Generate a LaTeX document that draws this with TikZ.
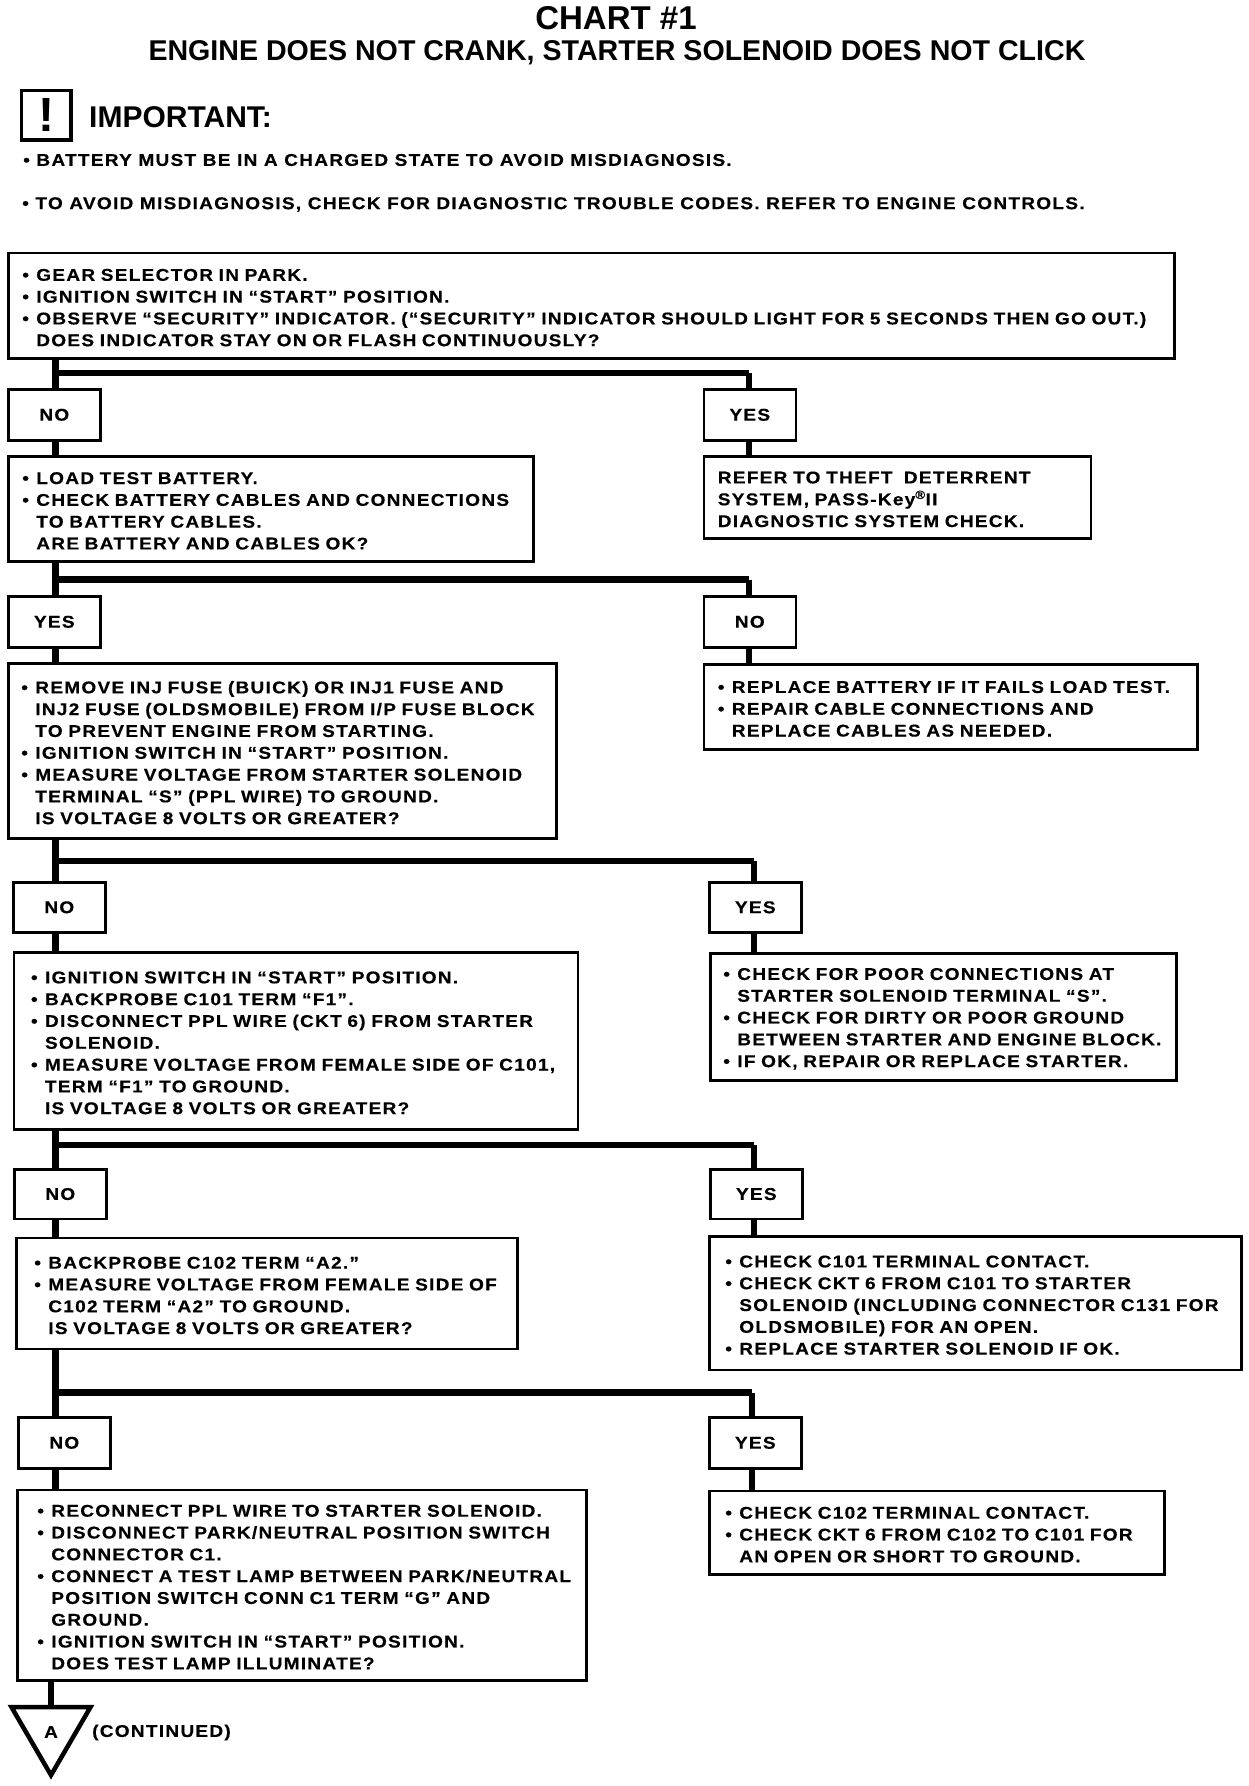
\documentclass[tikz,border=0pt]{standalone}
\usepackage{fontspec}
\setmainfont{Liberation Sans}
\newfontfamily\bodyfont[FakeStretch=1.12,LetterSpace=7.5,FakeBold=0.4]{Liberation Sans}
\usetikzlibrary{positioning,shapes.geometric}
\newlength{\leadin}
\setlength{\leadin}{10pt}
\newcommand{\bul}{\hspace*{\leadin}\makebox[14pt][l]{\textbullet}}
\newcommand{\ind}{\hspace*{\dimexpr\leadin+14pt\relax}}
\tikzset{
  headtext/.style={inner sep=0pt, font=\fontsize{28.6}{30}\selectfont\bfseries},
  notetext/.style={inner sep=0pt, anchor=west, font=\bodyfont\fontsize{17}{22}\selectfont\bfseries},
  lead/.style={execute at begin node={\setlength{\leadin}{#1}}},
  stepbox/.style={rectangle, draw, line width=2.6pt, anchor=north west, align=left, inner ysep=0pt,
                  inner xsep=4pt, font=\bodyfont\fontsize{17}{21.8}\selectfont\bfseries,
                  execute at begin node={\rule{0pt}{16pt}}},
  choice/.style={rectangle, draw, line width=2.6pt, anchor=north west, minimum width=92pt,
                 font=\bodyfont\fontsize{17}{20}\selectfont\bfseries},
  stem/.style={line width=6.5pt},
  bar/.style={line width=6.5pt},
}
\begin{document}
\begin{tikzpicture}[x=1pt, y=-1pt]
  \useasboundingbox (0,0) rectangle (1248,1786);

  \node[headtext, font=\fontsize{33}{34}\selectfont\bfseries] (chart) at (616,18) {CHART \#1};
  \node[headtext] (subtitle) at (617,53) {ENGINE DOES NOT CRANK, STARTER SOLENOID DOES NOT CLICK};
  \node[rectangle, draw, line width=3.5pt, minimum width=49.5pt, minimum height=49.5pt, inner sep=0pt,
        font=\fontsize{48}{48}\selectfont\bfseries] (icon) at (46.2,115.3) {!};
  \node[notetext, font=\fontsize{30}{31}\selectfont\bfseries] (important) at (89,117) {IMPORTANT:};
  \node[notetext] (note1) at (23,160) {\textbullet\ BATTERY MUST BE IN A CHARGED STATE TO AVOID MISDIAGNOSIS.};
  \node[notetext] (note2) at (22,204.5) {\textbullet\ TO AVOID MISDIAGNOSIS, CHECK FOR DIAGNOSTIC TROUBLE CODES. REFER TO ENGINE CONTROLS.};

  % first question
  \node[stepbox, text width=1158pt, minimum height=105.5pt] (step1) at (7,251.5) {\bul GEAR SELECTOR IN PARK.\\
    \bul IGNITION SWITCH IN “START” POSITION.\\
    \bul OBSERVE “SECURITY” INDICATOR. (“SECURITY” INDICATOR SHOULD LIGHT FOR 5 SECONDS THEN GO OUT.)\\
    \ind DOES INDICATOR STAY ON OR FLASH CONTINUOUSLY?};
  \node[choice, minimum height=51pt] (no1) at (7,388) {NO};
  \node[choice, minimum height=51pt] (yes1) at (702.5,388) {YES};
  \node[stepbox, text width=517pt, minimum height=105pt] (step2) at (7,455) {\bul LOAD TEST BATTERY.\\
    \bul CHECK BATTERY CABLES AND CONNECTIONS\\
    \ind TO BATTERY CABLES.\\
    \ind ARE BATTERY AND CABLES OK?};
  \node[stepbox, inner xsep=14pt, text width=359pt, minimum height=82pt] (theft) at (702.5,455) {REFER TO THEFT\ \ DETERRENT\\
    SYSTEM, PASS-Key\textsuperscript{\textregistered}II\\
    DIAGNOSTIC SYSTEM CHECK.};

  \node[choice, minimum height=51pt] (yes2) at (7,595) {YES};
  \node[choice, minimum height=51pt] (no2) at (702.5,595) {NO};
  \node[stepbox, lead=9pt, text width=540pt, minimum height=175pt] (step3) at (7,662) {\bul REMOVE INJ FUSE (BUICK) OR INJ1 FUSE AND\\
    \ind INJ2 FUSE (OLDSMOBILE) FROM I/P FUSE BLOCK\\
    \ind TO PREVENT ENGINE FROM STARTING.\\
    \bul IGNITION SWITCH IN “START” POSITION.\\
    \bul MEASURE VOLTAGE FROM STARTER SOLENOID\\
    \ind TERMINAL “S” (PPL WIRE) TO GROUND.\\
    \ind IS VOLTAGE 8 VOLTS OR GREATER?};
  \node[stepbox, text width=485.5pt, minimum height=85pt] (battery) at (702.5,663) {\bul REPLACE BATTERY IF IT FAILS LOAD TEST.\\
    \bul REPAIR CABLE CONNECTIONS AND\\
    \ind REPLACE CABLES AS NEEDED.};

  \node[choice, minimum height=50pt] (no3) at (12,881) {NO};
  \node[choice, minimum height=50pt] (yes3) at (708,881) {YES};
  \node[stepbox, lead=13pt, text width=556pt, minimum height=177pt] (step4) at (12.7,951) {\bul IGNITION SWITCH IN “START” POSITION.\\
    \bul BACKPROBE C101 TERM “F1”.\\
    \bul DISCONNECT PPL WIRE (CKT 6) FROM STARTER\\
    \ind SOLENOID.\\
    \bul MEASURE VOLTAGE FROM FEMALE SIDE OF C101,\\
    \ind TERM “F1” TO GROUND.\\
    \ind IS VOLTAGE 8 VOLTS OR GREATER?};
  \node[stepbox, lead=9pt, text width=458pt, minimum height=127pt] (starter) at (709,952) {\bul CHECK FOR POOR CONNECTIONS AT\\
    \ind STARTER SOLENOID TERMINAL “S”.\\
    \bul CHECK FOR DIRTY OR POOR GROUND\\
    \ind BETWEEN STARTER AND ENGINE BLOCK.\\
    \bul IF OK, REPAIR OR REPLACE STARTER.};

  \node[choice, minimum height=49.5pt] (no4) at (13,1168) {NO};
  \node[choice, minimum height=49.5pt] (yes4) at (709,1168) {YES};
  \node[stepbox, lead=14pt, text width=493pt, minimum height=111pt] (step5) at (15,1236.6) {\bul BACKPROBE C102 TERM “A2.”\\
    \bul MEASURE VOLTAGE FROM FEMALE SIDE OF\\
    \ind C102 TERM “A2” TO GROUND.\\
    \ind IS VOLTAGE 8 VOLTS OR GREATER?};
  \node[stepbox, lead=12pt, text width=524pt, minimum height=133.5pt] (c101) at (708,1235) {\bul CHECK C101 TERMINAL CONTACT.\\
    \bul CHECK CKT 6 FROM C101 TO STARTER\\
    \ind SOLENOID (INCLUDING CONNECTOR C131 FOR\\
    \ind OLDSMOBILE) FOR AN OPEN.\\
    \bul REPLACE STARTER SOLENOID IF OK.};

  \node[choice, minimum height=51pt] (no5) at (17,1416) {NO};
  \node[choice, minimum height=51pt] (yes5) at (708,1416) {YES};
  \node[stepbox, lead=16pt, text width=561pt, minimum height=190.5pt] (step6) at (16,1488.5) {\bul RECONNECT PPL WIRE TO STARTER SOLENOID.\\
    \bul DISCONNECT PARK/NEUTRAL POSITION SWITCH\\
    \ind CONNECTOR C1.\\
    \bul CONNECT A TEST LAMP BETWEEN PARK/NEUTRAL\\
    \ind POSITION SWITCH CONN C1 TERM “G” AND\\
    \ind GROUND.\\
    \bul IGNITION SWITCH IN “START” POSITION.\\
    \ind DOES TEST LAMP ILLUMINATE?};
  \node[stepbox, lead=12pt, text width=447pt, minimum height=83.5pt] (c102) at (708,1489.5) {\bul CHECK C102 TERMINAL CONTACT.\\
    \bul CHECK CKT 6 FROM C102 TO C101 FOR\\
    \ind AN OPEN OR SHORT TO GROUND.};

  \node[isosceles triangle, draw, line width=4.5pt, shape border rotate=-90, isosceles triangle stretches,
        minimum width=79pt, minimum height=68pt, inner sep=0pt, anchor=apex] (cont) at (51,1781) {};
  \node[font=\bodyfont\fontsize{17}{20}\selectfont\bfseries, inner sep=0pt] (contA) at (51,1732) {A};
  \node[notetext] (contlabel) at (92,1732.5) {(CONTINUED)};

  % branches
  \coordinate (hub1) at (55.7,373);
  \coordinate (hub1r) at (749,373);
  \coordinate (hub2) at (55.7,579.5);
  \coordinate (hub2r) at (749,579.5);
  \coordinate (hub3) at (55.7,861);
  \coordinate (hub3r) at (754,861);
  \coordinate (hub4) at (55.7,1145);
  \coordinate (hub4r) at (754,1145);
  \coordinate (hub5) at (55.7,1392.5);
  \coordinate (hub5r) at (752,1392.5);

  \draw[stem] (step1.south -| hub1) -- (no1.north -| hub1);
  \draw[stem] (no1.south -| hub1) -- (step2.north -| hub1);
  \draw[stem] (step2.south -| hub2) -- (yes2.north -| hub2);
  \draw[stem] (yes2.south -| hub2) -- (step3.north -| hub2);
  \draw[stem] (step3.south -| hub3) -- (no3.north -| hub3);
  \draw[stem] (no3.south -| hub3) -- (step4.north -| hub3);
  \draw[stem] (step4.south -| hub4) -- (no4.north -| hub4);
  \draw[stem] (no4.south -| hub4) -- (step5.north -| hub4);
  \draw[stem] (step5.south -| hub5) -- (no5.north -| hub5);
  \draw[stem] (no5.south -| hub5) -- (step6.north -| hub5);
  \draw[stem] (step6.south -| cont.lower side) -- (cont.lower side);

  \draw[bar] (hub1) -- (hub1r);
  \draw[bar] (hub2) -- (hub2r);
  \draw[bar] (hub3) -- (hub3r);
  \draw[bar] (hub4) -- (hub4r);
  \draw[bar] (hub5) -- (hub5r);

  \draw[stem] (hub1r) -- (yes1.north -| hub1r);
  \draw[stem] (yes1.south -| hub1r) -- (theft.north -| hub1r);
  \draw[stem] (hub2r) -- (no2.north -| hub2r);
  \draw[stem] (no2.south -| hub2r) -- (battery.north -| hub2r);
  \draw[stem] (hub3r) -- (yes3.north -| hub3r);
  \draw[stem] (yes3.south -| hub3r) -- (starter.north -| hub3r);
  \draw[stem] (hub4r) -- (yes4.north -| hub4r);
  \draw[stem] (yes4.south -| hub4r) -- (c101.north -| hub4r);
  \draw[stem] (hub5r) -- (yes5.north -| hub5r);
  \draw[stem] (yes5.south -| hub5r) -- (c102.north -| hub5r);
\end{tikzpicture}
\end{document}
